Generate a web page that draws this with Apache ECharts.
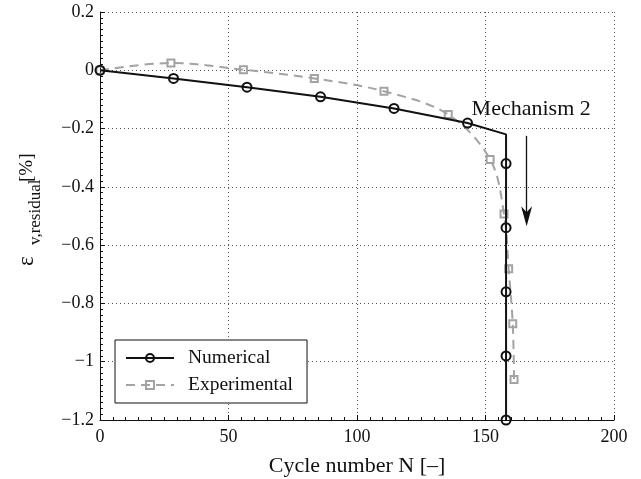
<!DOCTYPE html>
<html>
<head>
<meta charset="utf-8">
<script src="https://cdn.jsdelivr.net/npm/echarts@6/dist/echarts.min.js"></script>
<style>
  html, body { margin: 0; padding: 0; background: #fff; }
  #chart { width: 641px; height: 479px; }
</style>
</head>
<body>
<div id="chart"></div>
<script>
// Cycle numbers and residual volumetric strain (%) for each curve
const numCycles   = [0, 28.6, 57.2, 85.8, 114.4, 143, 158, 158, 158, 158, 158, 158];
const numStrain   = [0, -0.028, -0.058, -0.091, -0.131, -0.181, -0.22, -0.32, -0.54, -0.76, -0.98, -1.2];
const numMarked   = [true, true, true, true, true, true, false, true, true, true, true, true];

const expCycles   = [0, 27.6, 55.8, 83.4, 110.5, 135.5, 151.8, 157.2, 159, 160.6, 161.1];
const expStrain   = [0, 0.025, 0.002, -0.028, -0.072, -0.152, -0.306, -0.493, -0.681, -0.870, -1.061];

// Axis tick labels
const xTickLabels = { 0: '0', 50: '50', 100: '100', 150: '150', 200: '200' };
const yTickLabels = { '0.2': '0.2', '0.0': '0', '-0.2': '\u22120.2', '-0.4': '\u22120.4',
                      '-0.6': '\u22120.6', '-0.8': '\u22120.8', '-1.0': '\u22121', '-1.2': '\u22121.2' };

// Annotation: arrow for the sudden collapse
const arrowX = 166;
const arrowFrom = -0.225;
const arrowTo = -0.535;
const noteText = 'Mechanism 2';
const notePos = [144.6, -0.132];

const FONT = '"Liberation Serif", "Times New Roman", serif';
// downward notched arrow head, tip at the bottom
const ARROW_HEAD = 'path://M5,20 L0,0 L5,6 L10,0 Z';

const numData = numCycles.map((x, i) => numMarked[i]
  ? [x, numStrain[i]]
  : { value: [x, numStrain[i]], symbol: 'none' });
const expData = expCycles.map((x, i) => [x, expStrain[i]]);

const chart = echarts.init(document.getElementById('chart'), null, { renderer: 'canvas' });

const gridLine = { show: true, lineStyle: { color: '#555', width: 1, type: [1, 3] } };

chart.setOption({
  animation: false,
  backgroundColor: '#fff',
  grid: { left: 100, right: 27, top: 12, bottom: 59, containLabel: false, outerBoundsMode: 'none' },
  xAxis: {
    type: 'value', min: 0, max: 200, interval: 50,
    name: 'Cycle number N [\u2013]', nameLocation: 'middle', nameGap: 35,
    nameTextStyle: { fontFamily: FONT, fontSize: 22, color: '#111' },
    axisLine: { show: true, onZero: false, lineStyle: { color: '#111', width: 1 } },
    axisTick: { show: true, inside: true, length: 5, lineStyle: { color: '#111' } },
    minorTick: { show: true, splitNumber: 10, length: 3, lineStyle: { color: '#111' } },
    axisLabel: { fontFamily: FONT, fontSize: 18, color: '#111', margin: 8,
                 formatter: v => xTickLabels[Math.round(v)] },
    splitLine: gridLine
  },
  yAxis: {
    type: 'value', min: -1.2, max: 0.2, interval: 0.2,
    axisLine: { show: true, onZero: false, lineStyle: { color: '#111', width: 1 } },
    axisTick: { show: true, inside: true, length: 5, lineStyle: { color: '#111' } },
    minorTick: { show: true, splitNumber: 10, length: 3, lineStyle: { color: '#111' } },
    axisLabel: { fontFamily: FONT, fontSize: 18, color: '#111', margin: 6,
                 formatter: v => yTickLabels[(Math.round(v * 10) / 10).toFixed(1)] },
    splitLine: gridLine
  },
  legend: {
    orient: 'vertical', left: 115, top: 340,
    data: ['Numerical', 'Experimental'],
    backgroundColor: '#fff', borderColor: '#111', borderWidth: 1,
    padding: [8, 14, 8, 10], itemGap: 7, itemWidth: 48, itemHeight: 10,
    textStyle: { fontFamily: FONT, fontSize: 19.5, color: '#111', padding: [0, 0, 0, 9] }
  },
  series: [
    {
      name: 'Experimental', type: 'line', z: 2, data: expData,
      smooth: 0.35,
      symbol: 'rect', symbolSize: 7,
      lineStyle: { color: '#a3a3a3', width: 2, type: [9, 6] },
      itemStyle: { color: 'rgba(0,0,0,0)', borderColor: '#a3a3a3', borderWidth: 2 }
    },
    {
      name: 'Numerical', type: 'line', z: 3, data: numData,
      symbol: 'circle', symbolSize: 9,
      lineStyle: { color: '#111', width: 2 },
      itemStyle: { color: 'rgba(0,0,0,0)', borderColor: '#111', borderWidth: 2 }
    },
    {
      // carries the collapse arrow and its note
      name: 'annotation', type: 'line', z: 4, data: [],
      itemStyle: { color: '#111' },
      markLine: {
        silent: true, symbol: ['none', 'none'],
        lineStyle: { color: '#111', width: 1.3, type: 'solid' },
        label: { show: false },
        data: [[{ coord: [arrowX, arrowFrom] }, { coord: [arrowX, arrowTo + 0.04] }]]
      },
      markPoint: {
        silent: true,
        data: [
          { coord: notePos, symbol: 'circle', symbolSize: 0,
            itemStyle: { color: 'rgba(0,0,0,0)' },
            label: { show: true, position: 'right', distance: 0, formatter: noteText,
                     fontFamily: FONT, fontSize: 22, color: '#111' } },
          { coord: [arrowX, arrowTo], symbol: ARROW_HEAD, symbolSize: [11, 20],
            symbolKeepAspect: false, symbolOffset: [0, -10],
            itemStyle: { color: '#111' }, label: { show: false } }
        ]
      }
    }
  ],
  graphic: [
    {
      type: 'group', x: 27, y: 214, rotation: Math.PI / 2,
      children: [
        { type: 'text', x: -52, y: 0,
          style: { text: '\u03b5', font: '23px ' + FONT, fill: '#111', textAlign: 'left', textVerticalAlign: 'middle' } },
        { type: 'text', x: -31, y: 9,
          style: { text: 'v,residual', font: '17px ' + FONT, fill: '#111', textAlign: 'left', textVerticalAlign: 'middle' } },
        { type: 'text', x: 32, y: 0,
          style: { text: '[%]', font: '19px ' + FONT, fill: '#111', textAlign: 'left', textVerticalAlign: 'middle' } }
      ]
    }
  ]
});
</script>
</body>
</html>
